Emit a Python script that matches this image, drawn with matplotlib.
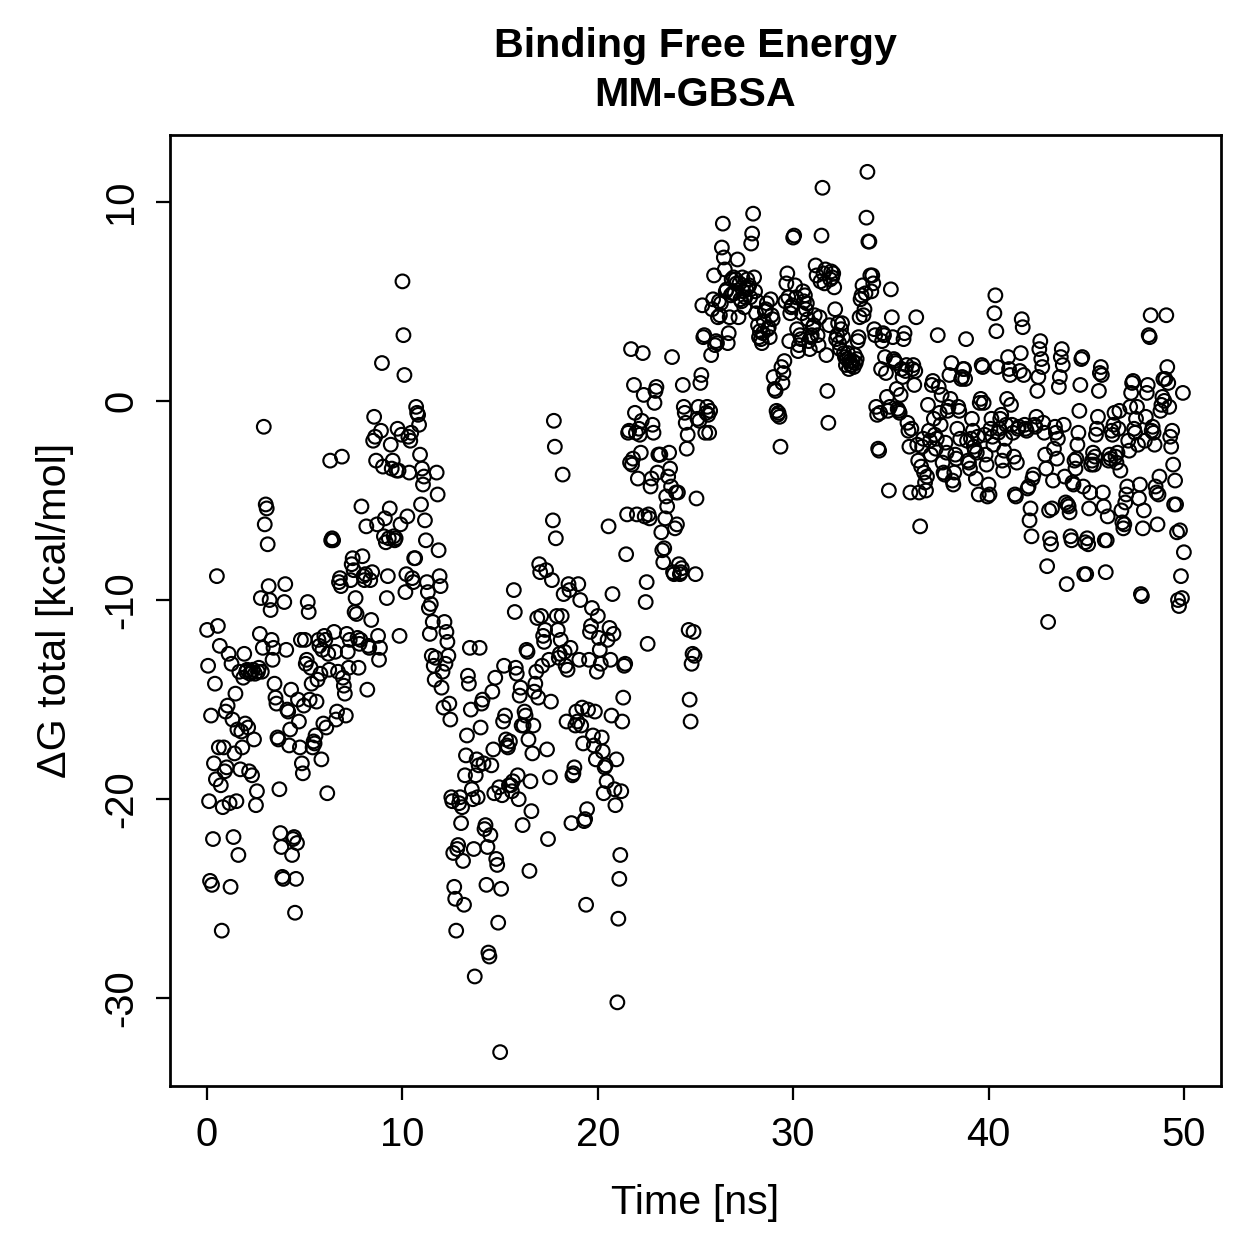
import numpy as np
import matplotlib
matplotlib.use("Agg")
import matplotlib.pyplot as plt

# ---------- Datos: dG total (kcal/mol), un valor cada 0.05 ns ----------
dt = 0.05
dg_blocks = [
    # 0-1 ns
    [-11.5, -13.3, -20.1, -24.1, -15.8, -24.3, -22.0, -18.2, -14.2, -19.0, -8.8, -11.3, -17.4, -12.3, -19.3, -26.6, -20.4, -17.4, -18.6, -15.6],
    [-18.4, -15.3, -12.7, -20.2, -24.4, -13.2, -16.0, -21.9, -17.7, -14.7, -20.1, -16.5, -22.8, -13.6, -18.5, -16.6, -17.4, -13.9, -12.7, -16.2],
    [-13.6, -13.5, -16.4, -18.6, -13.7, -13.6, -18.8, -13.5, -17.0, -13.7, -20.3, -19.6, -13.6, -13.4, -11.7, -9.9, -13.6, -12.4, -1.3, -6.2],
    [-5.2, -5.4, -7.2, -9.3, -10.0, -10.5, -12.0, -13.0, -12.4, -14.2, -14.9, -15.2, -16.9, -17.0, -19.5, -21.7, -22.4, -23.9, -24.0, -10.1],
    [-9.2, -12.5, -15.5, -15.6, -17.3, -16.5, -14.5, -22.8, -22.0, -21.9, -25.7, -24.0, -22.2, -15.0, -16.1, -17.4, -12.0, -18.2, -18.7, -15.3],
    # 5-10 ns
    [-12.0, -13.2, -13.0, -10.1, -10.6, -15.0, -13.4, -14.2, -17.4, -17.1, -17.2, -16.8, -15.1, -14.0, -12.0, -12.3, -13.7, -18.0, -12.5, -16.2],
    [-11.8, -12.0, -16.4, -19.7, -12.7, -13.5, -3.0, -7.0, -6.9, -7.0, -11.6, -12.6, -16.0, -15.6, -13.6, -9.1, -8.9, -9.3, -2.8, -13.9],
    [-14.3, -14.7, -15.8, -11.7, -12.6, -13.4, -12.0, -9.0, -8.2, -7.9, -8.5, -10.6, -9.9, -10.7, -11.9, -13.4, -12.2, -12.0, -5.3, -7.8],
    [-8.8, -9.0, -8.7, -6.3, -14.5, -12.3, -12.4, -9.0, -11.0, -8.6, -2.0, -0.8, -1.8, -3.0, -6.2, -11.8, -13.0, -12.4, -1.5, 1.9],
    [-3.3, -6.8, -5.9, -7.1, -9.9, -8.8, -6.9, -5.4, -2.2, -3.4, -3.0, -6.8, -7.0, -6.9, -3.5, -1.4, -3.5, -11.8, -6.2, -1.7],
    # 10-15 ns
    [6.0, 3.3, 1.3, -9.6, -8.7, -5.8, -1.8, -3.6, -2.0, -1.6, -8.9, -9.1, -7.9, -7.9, -0.3, -0.6, -0.7, -1.2, -2.7, -5.2],
    [-3.4, -4.2, -3.8, -6.0, -7.0, -9.1, -9.6, -10.4, -11.7, -10.2, -12.8, -11.1, -13.3, -14.0, -12.9, -3.6, -4.7, -7.5, -8.8, -9.3],
    [-14.4, -13.6, -15.4, -11.1, -13.2, -11.6, -12.1, -12.8, -15.2, -16.0, -19.9, -20.1, -22.7, -24.4, -25.0, -26.6, -22.5, -22.3, -20.2, -19.9],
    [-21.2, -20.4, -23.1, -25.3, -18.8, -17.8, -16.8, -13.8, -14.2, -12.4, -15.5, -19.5, -20.0, -22.5, -28.9, -18.8, -18.0, -19.9, -18.3, -12.4],
    [-16.4, -15.2, -15.0, -18.2, -21.5, -21.3, -24.3, -22.4, -27.7, -27.9, -21.8, -18.3, -14.6, -17.5, -19.7, -13.9, -23.0, -23.3, -26.2, -19.4],
    # 15-20 ns
    [-32.7, -24.5, -19.8, -16.1, -13.3, -15.8, -17.0, -17.3, -17.4, -19.3, -17.1, -19.3, -19.6, -19.1, -9.5, -10.6, -13.4, -13.7, -18.8, -20.0],
    [-14.8, -14.4, -16.3, -21.3, -16.3, -15.6, -15.8, -12.5, -12.6, -17.0, -23.6, -19.1, -20.6, -17.7, -16.3, -14.6, -14.2, -13.6, -10.9, -14.9],
    [-8.2, -8.6, -10.8, -13.3, -11.8, -12.1, -11.5, -8.5, -17.5, -22.0, -13.0, -18.9, -15.1, -9.0, -6.0, -1.0, -2.3, -6.9, -10.8, -11.5],
    [-12.9, -12.7, -12.0, -10.8, -3.7, -9.7, -12.6, -13.3, -16.1, -13.5, -9.2, -9.5, -12.4, -21.2, -18.8, -18.7, -18.4, -16.3, -15.6, -16.1],
    [-9.2, -13.0, -10.0, -16.3, -15.4, -17.2, -21.1, -21.0, -25.3, -20.5, -15.5, -13.0, -11.6, -11.3, -10.4, -16.8, -17.3, -15.6, -18.0, -13.6],
    # 20-25 ns
    [-10.8, -11.9, -12.5, -13.2, -16.9, -17.6, -19.7, -18.4, -18.3, -19.1, -12.0, -6.3, -11.4, -13.0, -15.8, -9.7, -11.7, -19.5, -20.3, -18.0],
    [-30.2, -26.0, -24.0, -22.8, -19.6, -16.1, -14.9, -13.3, -13.2, -7.7, -5.7, -1.6, -1.5, -3.1, 2.6, -3.2, -2.9, 0.8, -0.6, -1.6],
    [-5.7, -3.9, -1.4, -1.7, -2.6, -1.0, 2.4, 0.3, -5.8, -10.1, -9.1, -12.2, -5.7, -5.9, -4.3, -3.9, -1.2, -1.6, -0.1, 0.5],
    [0.7, -3.6, -2.7, -2.7, -2.7, -6.6, -7.5, -8.1, -7.4, -5.9, -4.8, -5.3, -3.8, -2.6, -3.4, -4.3, 2.2, -8.6, -8.7, -6.4],
    [-4.6, -6.2, -4.6, -8.2, -8.7, -8.6, -8.4, 0.8, -0.3, -0.6, -1.1, -2.4, -1.7, -11.5, -15.0, -16.1, -13.2, -12.7, -11.6, -12.8],
    # 25-30 ns
    [-8.7, -4.9, -0.9, -0.3, -1.0, 0.9, 1.3, 4.8, 3.2, 3.3, -1.6, -0.6, -0.3, -0.7, -1.6, -0.5, 2.3, 4.6, 5.1, 6.3],
    [2.8, 3.0, 2.9, 4.2, 5.0, 4.3, 4.9, 7.7, 8.9, 7.2, 6.6, 5.5, 5.6, 2.9, 3.4, 4.2, 5.3, 6.1, 5.4, 6.2],
    [5.4, 6.1, 5.9, 7.1, 4.2, 5.9, 5.1, 5.0, 6.2, 5.5, 4.7, 5.2, 5.6, 6.1, 5.7, 5.8, 5.2, 7.9, 8.4, 9.4],
    [6.2, 5.5, 4.4, 5.0, 3.8, 3.2, 3.5, 3.1, 2.9, 3.4, 4.0, 4.5, 4.6, 4.9, 3.6, 3.7, 3.2, 5.1, 4.3, 4.1],
    [1.2, 0.6, 0.5, -0.5, -0.7, -0.6, -0.8, -2.3, 1.7, 0.9, 1.4, 2.0, 5.0, 5.9, 6.4, 5.2, 3.0, 4.4, 4.7, 4.8],
    # 30-35 ns
    [8.2, 8.3, 5.8, 5.2, 3.6, 2.5, 2.8, 3.3, 3.1, 4.4, 5.5, 5.0, 5.3, 4.6, 4.9, 4.1, 3.0, 2.6, 3.2, 3.3],
    [3.7, 3.8, 4.3, 6.8, 6.3, 3.3, 2.8, 4.2, 6.0, 8.3, 10.7, 6.4, 5.9, 6.6, 2.3, 0.5, -1.1, 3.8, 6.1, 6.5],
    [6.2, 6.4, 5.7, 4.6, 3.1, 3.3, 3.9, 2.9, 2.6, 3.6, 3.9, 3.2, 2.4, 2.2, 1.8, 2.1, 2.4, 1.6, 2.0, 1.8],
    [1.8, 2.0, 1.7, 2.3, 1.9, 2.1, 3.0, 3.2, 4.2, 5.1, 5.3, 5.8, 4.3, 4.6, 5.4, 9.2, 11.5, 8.0, 8.0, 6.3],
    [5.5, 6.3, 5.9, 3.6, 3.3, -0.3, -0.7, -2.4, -2.5, -0.6, 1.6, 3.0, 3.4, 3.3, 2.2, 1.4, 0.2, -0.5, -4.5, -0.3],
    # 35-40 ns
    [5.6, 4.2, 3.2, 2.1, 2.0, 1.9, 0.6, -0.4, -0.5, -0.6, 0.3, 1.6, 1.2, 3.1, 3.4, 1.5, 1.8, -1.1, -1.5, -2.3],
    [-4.6, -1.4, 1.6, 1.8, 0.8, 1.5, 4.2, -2.2, -3.0, -4.6, -6.3, -3.3, -2.3, -1.9, -3.6, -4.1, -4.5, -3.8, -0.2, -1.5],
    [-2.0, -2.7, 0.8, 1.0, -0.9, -1.7, -2.4, -1.9, 3.3, 0.7, -0.6, -1.2, 0.3, -3.1, -3.6, -3.7, -2.1, -2.6, -0.5, -0.3],
    [1.3, 0.1, 1.9, -4.0, -4.2, -3.6, -2.7, -2.9, -1.4, -0.3, -0.5, -1.9, 1.1, 1.2, 1.6, 1.6, 1.1, 3.1, -2.0, -3.0],
    [-3.1, -3.4, -1.9, -0.9, -1.5, -2.3, -2.5, -3.9, -2.6, -1.8, -4.7, -0.1, 0.1, 1.8, 1.7, -0.1, -1.7, -2.7, -3.2, -4.8],
    # 40-45 ns
    [-4.2, -4.7, -1.4, -0.9, -1.8, -2.2, 4.4, 5.3, 3.5, 1.7, -1.6, -1.4, -0.9, -0.7, -3.0, -3.5, -2.5, -1.9, -1.2, 0.1],
    [2.2, 1.6, 1.3, -0.2, -1.2, -1.6, -2.8, -4.7, -4.8, -3.1, -1.4, -1.3, 1.5, 2.4, 4.1, 3.7, 1.3, -1.2, -1.4, -1.5],
    [-4.4, -4.3, -6.0, -5.4, -6.8, -3.9, -3.7, -1.2, -1.3, -0.8, 0.5, 1.2, 2.6, 3.0, 2.1, 1.7, -1.1, -1.6, -2.7, -3.4],
    [-8.3, -11.1, -5.5, -6.9, -7.2, -5.4, -4.0, -2.4, -1.3, -1.6, -2.9, -1.9, 0.7, 1.2, 2.2, 2.6, 1.8, -1.2, -3.8, -5.1],
    [-9.2, -5.2, -5.3, -5.6, -6.8, -7.0, -4.1, -4.2, -3.0, -3.4, -2.9, -2.2, -1.6, -0.5, 0.8, 2.1, 2.2, -4.3, -8.7, -7.1],
    # 45-50 ns
    [-8.7, -6.9, -7.2, -5.4, -4.6, -3.2, -3.0, -2.6, -3.2, -2.8, -1.7, -1.4, -0.8, 0.5, 1.4, 1.7, 1.3, -4.6, -5.3, -7.0],
    [-8.6, -7.0, -5.8, -3.0, -2.7, -2.9, -1.5, -1.7, -1.2, -0.6, -2.8, -3.1, -2.6, -1.4, -0.5, -3.5, -5.5, -6.1, -6.4, -6.2],
    [-5.1, -4.7, -4.3, -2.0, -2.5, -0.3, 0.4, 0.9, 1.0, -1.4, -1.6, -0.9, -0.3, -2.2, -4.9, -4.2, -9.7, -9.8, -6.4, -5.5],
    [-2.0, -0.8, 0.4, 0.8, 3.3, 3.2, 4.3, -1.5, -1.3, -1.6, -2.2, -4.3, -4.6, -6.2, -4.7, -3.8, -0.5, -0.2, 0.2, 1.1],
    [0.0, 1.1, 4.3, 1.7, 0.9, -0.3, -1.8, -2.3, -1.5, -3.2, -5.2, -4.0, -5.2, -6.6, -10.0, -10.3, -6.5, -8.8, -9.9, 0.4],
    [-7.6],
]

dg = np.concatenate([np.array(b, dtype=float) for b in dg_blocks])
time = np.arange(len(dg)) * dt

plt.rcParams['font.family'] = ['Liberation Sans', 'DejaVu Sans']
plt.rcParams['axes.unicode_minus'] = False

W = 1259
fig = plt.figure(figsize=(W / 180, W / 180), dpi=180)
ax = fig.add_axes([170 / W, 1 - 1086 / W, (1221 - 170) / W, (1086 - 135) / W])

ax.scatter(time, dg, s=30, facecolors='none', edgecolors='black', linewidths=0.85)

ax.set_xlim(-1.9, 51.9)
ax.set_ylim(-34.4, 13.35)
ax.set_xticks([0, 10, 20, 30, 40, 50])
ax.set_yticks([-30, -20, -10, 0, 10])
ax.tick_params(direction='out', length=5.5, width=0.9, labelsize=16, pad=6.5)
for lab in ax.get_yticklabels():
    lab.set_rotation(90)
    lab.set_va('center')
for sp in ax.spines.values():
    sp.set_linewidth(1.1)

fig.text(695.5 / W, 1 - 1203 / W, "Time [ns]", ha='center', va='center', fontsize=16.5)
fig.text(55 / W, 1 - 610 / W, "ΔG total [kcal/mol]", ha='center', va='center',
         rotation=90, fontsize=16.5)
fig.text(695.5 / W, 1 - 46 / W, "Binding Free Energy", ha='center', va='center',
         fontsize=16.5, fontweight='bold')
fig.text(695.5 / W, 1 - 95 / W, "MM-GBSA", ha='center', va='center',
         fontsize=16.5, fontweight='bold')

fig.savefig("out.png", dpi=180)
